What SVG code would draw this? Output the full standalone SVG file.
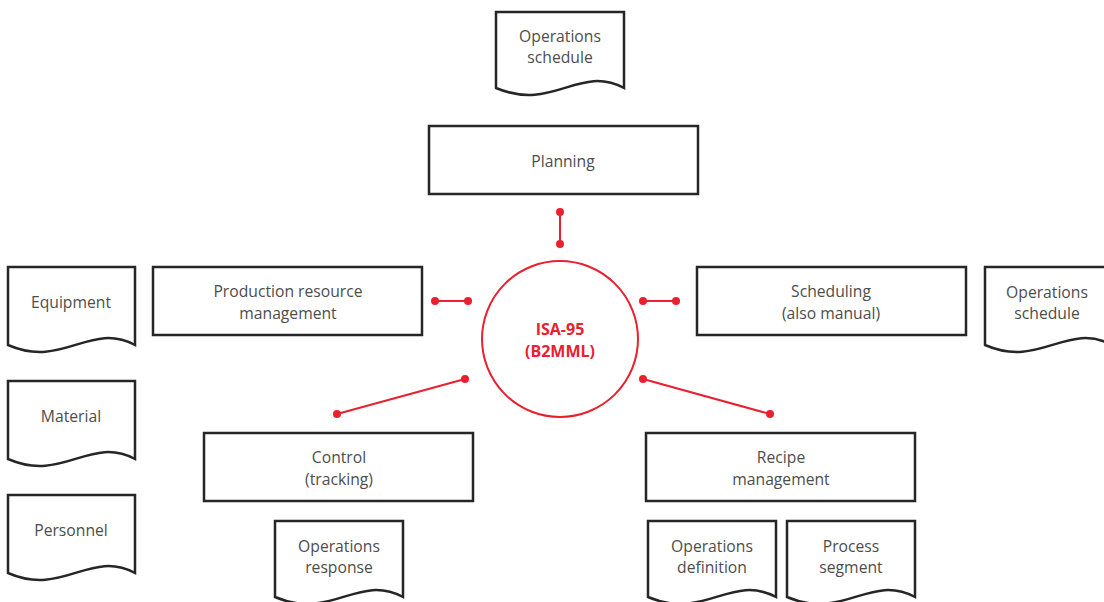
<svg xmlns="http://www.w3.org/2000/svg" width="1104" height="602" viewBox="0 0 1104 602">
<style>
.box{fill:#fff;stroke:#262626;stroke-width:2.5}
.doc{fill:#fff;stroke:#262626;stroke-width:2.5;stroke-linejoin:miter}
.t{font-family:"Open Sans","Liberation Sans",sans-serif;font-size:15.7px;fill:#4d4d4d;text-anchor:middle}
.hub{font-family:"Open Sans","Liberation Sans",sans-serif;font-size:16px;font-weight:bold;fill:#e8202f;text-anchor:middle}
.ln{stroke:#e8202f;stroke-width:2;fill:none}
.dot{fill:#e8202f}
</style>
<rect width="1104" height="602" fill="#fff"/>
<g id="doc-top">
<path class="doc" d="M496 12 H624 V88 C579 64 553 112 496 88 Z"/>
<text class="t" x="560" y="42">Operations</text>
<text class="t" x="560" y="63">schedule</text>
</g>
<g id="planning">
<rect class="box" x="429" y="126" width="269" height="68"/>
<text class="t" x="563" y="167">Planning</text>
</g>
<g id="prm">
<rect class="box" x="153" y="267" width="269" height="68"/>
<text class="t" x="288" y="297">Production resource</text>
<text class="t" x="288" y="319">management</text>
</g>
<g id="scheduling">
<rect class="box" x="697" y="267" width="269" height="68"/>
<text class="t" x="831" y="297">Scheduling</text>
<text class="t" x="831" y="319">(also manual)</text>
</g>
<g id="control">
<rect class="box" x="204" y="433" width="269" height="68"/>
<text class="t" x="339" y="463">Control</text>
<text class="t" x="339" y="485">(tracking)</text>
</g>
<g id="recipe">
<rect class="box" x="646" y="433" width="269" height="68"/>
<text class="t" x="781" y="463">Recipe</text>
<text class="t" x="781" y="485">management</text>
</g>
<g id="isa95">
<circle cx="560" cy="339" r="78" fill="#fff" stroke="#e8202f" stroke-width="2"/>
<text class="hub" x="560" y="335">ISA-95</text>
<text class="hub" x="560" y="357">(B2MML)</text>
</g>
<g id="equipment">
<path class="doc" d="M8 267 H135 V345 C90 321 63 369 8 345 Z"/>
<text class="t" x="71" y="308">Equipment</text>
</g>
<g id="material">
<path class="doc" d="M8 381 H135 V459 C90 435 63 483 8 459 Z"/>
<text class="t" x="71" y="422">Material</text>
</g>
<g id="personnel">
<path class="doc" d="M8 495 H135 V573 C90 549 63 597 8 573 Z"/>
<text class="t" x="71" y="536">Personnel</text>
</g>
<g id="doc-right">
<path class="doc" d="M985 267 H1112 V345 C1067 321 1040 369 985 345 Z"/>
<text class="t" x="1047" y="298">Operations</text>
<text class="t" x="1047" y="319">schedule</text>
</g>
<g id="op-response">
<path class="doc" d="M275 521 H403 V597 C358 573 331 621 275 597 Z"/>
<text class="t" x="339" y="552">Operations</text>
<text class="t" x="339" y="573">response</text>
</g>
<g id="op-definition">
<path class="doc" d="M648 521 H776 V597 C731 573 704 621 648 597 Z"/>
<text class="t" x="712" y="552">Operations</text>
<text class="t" x="712" y="573">definition</text>
</g>
<g id="process-segment">
<path class="doc" d="M787 521 H915 V597 C870 573 843 621 787 597 Z"/>
<text class="t" x="851" y="552">Process</text>
<text class="t" x="851" y="573">segment</text>
</g>
<g id="connectors">
<line class="ln" x1="560" y1="212" x2="560" y2="244"/>
<circle class="dot" cx="560" cy="212" r="4"/><circle class="dot" cx="560" cy="244" r="4"/>
<line class="ln" x1="435" y1="301" x2="468" y2="301"/>
<circle class="dot" cx="435" cy="301" r="4"/><circle class="dot" cx="468" cy="301" r="4"/>
<line class="ln" x1="643" y1="301" x2="676" y2="301"/>
<circle class="dot" cx="643" cy="301" r="4"/><circle class="dot" cx="676" cy="301" r="4"/>
<line class="ln" x1="465" y1="379" x2="337" y2="414"/>
<circle class="dot" cx="465" cy="379" r="4"/><circle class="dot" cx="337" cy="414" r="4"/>
<line class="ln" x1="643" y1="379" x2="770" y2="414"/>
<circle class="dot" cx="643" cy="379" r="4"/><circle class="dot" cx="770" cy="414" r="4"/>
</g>
</svg>
